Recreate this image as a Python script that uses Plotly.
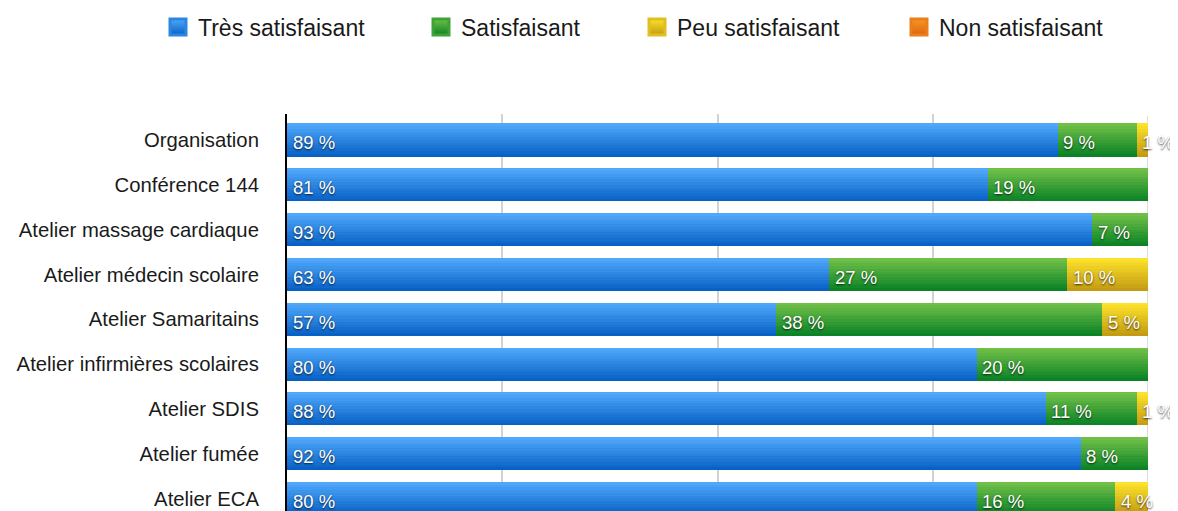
import plotly.graph_objects as go

# ---- data ----
categories = ["Organisation", "Conférence 144", "Atelier massage cardiaque",
              "Atelier médecin scolaire", "Atelier Samaritains",
              "Atelier infirmières scolaires", "Atelier SDIS", "Atelier fumée",
              "Atelier ECA"]
series_names = ["Très satisfaisant", "Satisfaisant", "Peu satisfaisant", "Non satisfaisant"]

tres_vals = [89.5, 81.4, 93.5, 63.0, 56.8, 80.1, 88.1, 92.2, 80.1]
sat_vals = [9.2, 18.6, 6.5, 27.6, 37.9, 19.9, 10.6, 7.8, 16.1]
peu_vals = [1.3, 0.0, 0.0, 9.4, 5.3, 0.0, 1.3, 0.0, 3.8]
non_vals = [0.0, 0.0, 0.0, 0.0, 0.0, 0.0, 0.0, 0.0, 0.0]

tres_labels = [89, 81, 93, 63, 57, 80, 88, 92, 80]
sat_labels = [9, 19, 7, 27, 38, 20, 11, 8, 16]
peu_labels = [1, None, None, 10, 5, None, 1, None, 4]
non_labels = [None] * 9

# ---- style ----
OFF = 8  # page body margin
W, H = 1178 - OFF, 511 - OFF
FONT = "Liberation Sans"
grad = {
    "Très satisfaisant": ((80, 168, 250), (8, 98, 198)),
    "Satisfaisant": ((112, 192, 72), (12, 132, 38)),
    "Peu satisfaisant": ((252, 226, 42), (196, 156, 20)),
    "Non satisfaisant": ((246, 152, 34), (222, 100, 18)),
}
BAR_W = 0.737
N_STRIPS = 12

def mix(c1, c2, t):
    return "rgb(%d,%d,%d)" % tuple(round(a + (b - a) * t) for a, b in zip(c1, c2))

ypos = list(range(len(categories)))
all_vals = [tres_vals, sat_vals, peu_vals, non_vals]
all_labels = [tres_labels, sat_labels, peu_labels, non_labels]

fig = go.Figure()
annotations = []
base = [0.0] * len(categories)
for name, vals, labs in zip(series_names, all_vals, all_labels):
    top, bot = grad[name]
    for k in range(N_STRIPS):
        t = k / (N_STRIPS - 1)
        off = -BAR_W / 2 + k * BAR_W / N_STRIPS
        fig.add_trace(go.Bar(
            y=ypos, x=vals, base=base, orientation="h",
            width=BAR_W - k * BAR_W / N_STRIPS, offset=off,
            marker=dict(color=mix(top, bot, t), line=dict(width=0)),
            showlegend=False, hoverinfo="skip",
        ))
    for i, (b, v, lab) in enumerate(zip(base, vals, labs)):
        if lab is not None and v > 0:
            annotations.append(dict(
                x=b, y=i, xref="x", yref="y", text=f"{lab} %", showarrow=False,
                xanchor="left", yanchor="middle", xshift=3.5, yshift=-3,
                font=dict(family=FONT, size=18.5, color="white",
                          shadow="0px 1px 2px rgba(0,0,0,0.75)"),
            ))
    base = [b + v for b, v in zip(base, vals)]

# legend-only entries, each in its own legend for precise placement
legend_x = [178, 441, 657, 919]
legend_ids = ["legend", "legend2", "legend3", "legend4"]
for name, lid in zip(series_names, legend_ids):
    top, bot = grad[name]
    fig.add_trace(go.Scatter(
        x=[None], y=[None], mode="markers", name=name, legend=lid,
        marker=dict(symbol="square", size=16, color=mix(top, bot, 0),
                    gradient=dict(type="vertical", color=mix(top, bot, 1)),
                    line=dict(width=3, color=mix(top, bot, 0.5))),
    ))

layout_legends = {}
for lx, lid in zip(legend_x, legend_ids):
    layout_legends[lid] = dict(
        x=(lx - OFF - 20) / W, xref="container", xanchor="left",
        y=1 - (27 - OFF) / H, yref="container", yanchor="middle",
        orientation="h", bgcolor="rgba(0,0,0,0)",
        font=dict(family=FONT, size=23, color="#1a1a1a"),
    )

fig.update_layout(
    width=W, height=H,
    margin=dict(l=287 - OFF, r=30, t=114 - OFF, b=0),
    paper_bgcolor="white", plot_bgcolor="white",
    barmode="overlay", bargap=0,
    annotations=annotations,
    shapes=[dict(type="line", xref="x", yref="paper", x0=100, x1=100, y0=0, y1=0.995,
                 line=dict(color="#d2d2d2", width=1.5), layer="below")],
    xaxis=dict(range=[0, 100], tickvals=[25, 50, 75], showticklabels=False,
               showgrid=True, gridcolor="#d2d2d2", gridwidth=1.5,
               zeroline=False, showline=False, fixedrange=True),
    yaxis=dict(range=[8.28, -0.58], tickvals=ypos, ticktext=categories,
               showgrid=False, zeroline=False, showline=True,
               linecolor="black", linewidth=2, ticks="",
               ticklabelstandoff=22,
               tickfont=dict(family=FONT, size=20.3, color="#1a1a1a")),
    **layout_legends,
)

fig.write_html("out.html")
